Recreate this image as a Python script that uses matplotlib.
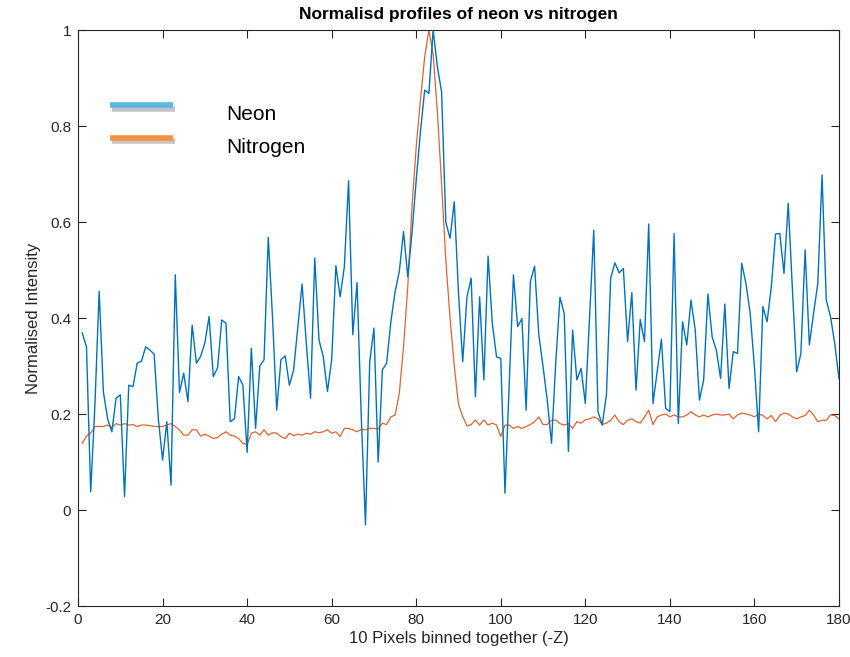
import matplotlib
matplotlib.use("Agg")
import matplotlib.pyplot as plt
import matplotlib.patheffects as pe
from matplotlib.lines import Line2D
from matplotlib.legend_handler import HandlerLine2D
import numpy as np

# binned pixel index (1-based, 10 pixels per bin)
bins = np.arange(1, 181)

neon = [
    0.369, 0.34, 0.038, 0.22, 0.456, 0.246, 0.19, 0.163, 0.233, 0.24,
    0.028, 0.26, 0.257, 0.306, 0.31, 0.34, 0.333, 0.325, 0.19, 0.104,
    0.184, 0.052, 0.49, 0.245, 0.285, 0.226, 0.385, 0.306, 0.32, 0.348,
    0.403, 0.278, 0.296, 0.396, 0.389, 0.184, 0.19, 0.278, 0.26, 0.12,
    0.337, 0.17, 0.3, 0.313, 0.568, 0.403, 0.208, 0.313, 0.321, 0.26,
    0.292, 0.382, 0.471, 0.348, 0.233, 0.525, 0.354, 0.32, 0.247, 0.313,
    0.509, 0.444, 0.507, 0.686, 0.365, 0.474, 0.194, -0.031, 0.309, 0.379,
    0.10, 0.292, 0.306, 0.392, 0.455, 0.497, 0.58, 0.486, 0.577, 0.6875,
    0.788, 0.875, 0.868, 1.0, 0.924, 0.871, 0.60, 0.566, 0.642, 0.452,
    0.309, 0.444, 0.483, 0.236, 0.444, 0.271, 0.529, 0.389, 0.319, 0.316,
    0.035, 0.264, 0.49, 0.382, 0.399, 0.208, 0.476, 0.508, 0.365, 0.299,
    0.229, 0.139, 0.306, 0.443, 0.41, 0.122, 0.375, 0.271, 0.295, 0.222,
    0.40, 0.583, 0.205, 0.177, 0.24, 0.483, 0.515, 0.494, 0.503, 0.351,
    0.453, 0.25, 0.397, 0.351, 0.596, 0.222, 0.288, 0.356, 0.212, 0.205,
    0.576, 0.18, 0.392, 0.344, 0.4375, 0.375, 0.229, 0.271, 0.45, 0.361,
    0.333, 0.274, 0.429, 0.253, 0.33, 0.326, 0.514, 0.472, 0.41, 0.299,
    0.163, 0.424, 0.392, 0.465, 0.575, 0.576, 0.493, 0.639, 0.458, 0.288,
    0.326, 0.542, 0.344, 0.41, 0.472, 0.698, 0.4375, 0.403, 0.347, 0.274,
]

nitrogen = [
    0.139, 0.154, 0.16, 0.174, 0.174, 0.174, 0.177, 0.172, 0.18, 0.177,
    0.18, 0.177, 0.178, 0.174, 0.177, 0.177, 0.176, 0.174, 0.174, 0.174,
    0.177, 0.18, 0.174, 0.167, 0.156, 0.156, 0.167, 0.167, 0.154, 0.158,
    0.154, 0.149, 0.151, 0.158, 0.163, 0.156, 0.154, 0.149, 0.139, 0.136,
    0.16, 0.163, 0.156, 0.167, 0.156, 0.161, 0.16, 0.153, 0.149, 0.16,
    0.155, 0.158, 0.156, 0.16, 0.158, 0.163, 0.161, 0.163, 0.167, 0.16,
    0.163, 0.153, 0.17, 0.17, 0.167, 0.163, 0.168, 0.167, 0.17, 0.17,
    0.169, 0.181, 0.178, 0.194, 0.198, 0.243, 0.34, 0.465, 0.632, 0.757,
    0.854, 0.944, 1.0, 0.95, 0.83, 0.68, 0.52, 0.40, 0.30, 0.22,
    0.195, 0.175, 0.178, 0.1875, 0.177, 0.1875, 0.177, 0.181, 0.177, 0.153,
    0.177, 0.177, 0.170, 0.174, 0.170, 0.174, 0.178, 0.184, 0.194, 0.178,
    0.178, 0.187, 0.1875, 0.18, 0.177, 0.18, 0.170, 0.184, 0.181, 0.188,
    0.19, 0.194, 0.19, 0.178, 0.181, 0.187, 0.198, 0.184, 0.178, 0.187,
    0.19, 0.184, 0.181, 0.194, 0.208, 0.178, 0.194, 0.198, 0.2, 0.194,
    0.198, 0.194, 0.194, 0.198, 0.205, 0.198, 0.194, 0.198, 0.194, 0.198,
    0.2, 0.198, 0.198, 0.2, 0.19, 0.198, 0.202, 0.2, 0.198, 0.194,
    0.2, 0.197, 0.19, 0.197, 0.184, 0.197, 0.202, 0.2, 0.194, 0.19,
    0.194, 0.197, 0.208, 0.198, 0.184, 0.187, 0.187, 0.198, 0.197, 0.19,
]

xticks = [0, 20, 40, 60, 80, 100, 120, 140, 160, 180]
yticks = [-0.2, 0, 0.2, 0.4, 0.6, 0.8, 1]
ytick_labels = ["-0.2", "0", "0.2", "0.4", "0.6", "0.8", "1"]

narrow = ["Liberation Sans Narrow", "Liberation Sans", "DejaVu Sans"]
axis_grey = "#262626"


class RaisedLine(HandlerLine2D):
    # draws the legend swatch a little above the label's centre line
    def create_artists(self, legend, orig_handle, xdescent, ydescent,
                       width, height, fontsize, trans):
        return super().create_artists(legend, orig_handle, xdescent,
                                      ydescent - 11, width, height,
                                      fontsize, trans)


fig = plt.figure(figsize=(8.5, 6.57), dpi=100)
ax = fig.add_axes([0.0918, 0.0776, 0.8952, 0.8767])

ax.plot(bins, neon, color="#0072BD", lw=1.0, zorder=3)
ax.plot(bins, nitrogen, color="#D95319", lw=0.9, alpha=0.9, zorder=2)

ax.set_xlim(0, 180)
ax.set_ylim(-0.2, 1)
ax.set_xticks(xticks)
ax.set_yticks(yticks)
ax.set_yticklabels(ytick_labels)
ax.tick_params(direction="in", length=6, width=0.8, top=True, right=True,
               colors=axis_grey, labelsize=11, pad=5)
for lab in ax.get_xticklabels() + ax.get_yticklabels():
    lab.set_family(narrow)
for sp in ax.spines.values():
    sp.set_color(axis_grey)
    sp.set_linewidth(0.8)

ax.set_title("Normalisd profiles of neon vs nitrogen", family=narrow,
             fontsize=12.5, fontweight="bold", color="black", pad=8)
ax.set_xlabel("10 Pixels binned together (-Z)", family=narrow, fontsize=12,
              color=axis_grey, labelpad=3)
ax.set_ylabel("Normalised Intensity", family=narrow, fontsize=12,
              color=axis_grey, labelpad=3)

# legend with thick shadowed swatches, no frame
shadow = [pe.SimpleLineShadow(offset=(1.5, -2.5), shadow_color="gray", alpha=0.45),
          pe.Normal()]
handles = [
    Line2D([], [], color="#5BB8DE", lw=4, solid_capstyle="butt", path_effects=shadow),
    Line2D([], [], color="#F7913D", lw=4, solid_capstyle="butt", path_effects=shadow),
]
ax.legend(handles, ["Neon", "Nitrogen"], loc="upper left",
          bbox_to_anchor=(110 / 850, 1 - 105 / 657), bbox_transform=fig.transFigure,
          frameon=False, borderpad=0, borderaxespad=0,
          handlelength=3.0, handletextpad=2.6, labelspacing=0.66,
          handler_map={Line2D: RaisedLine()},
          prop={"family": "Liberation Sans", "size": 15})

fig.savefig("out.png", dpi=100)
